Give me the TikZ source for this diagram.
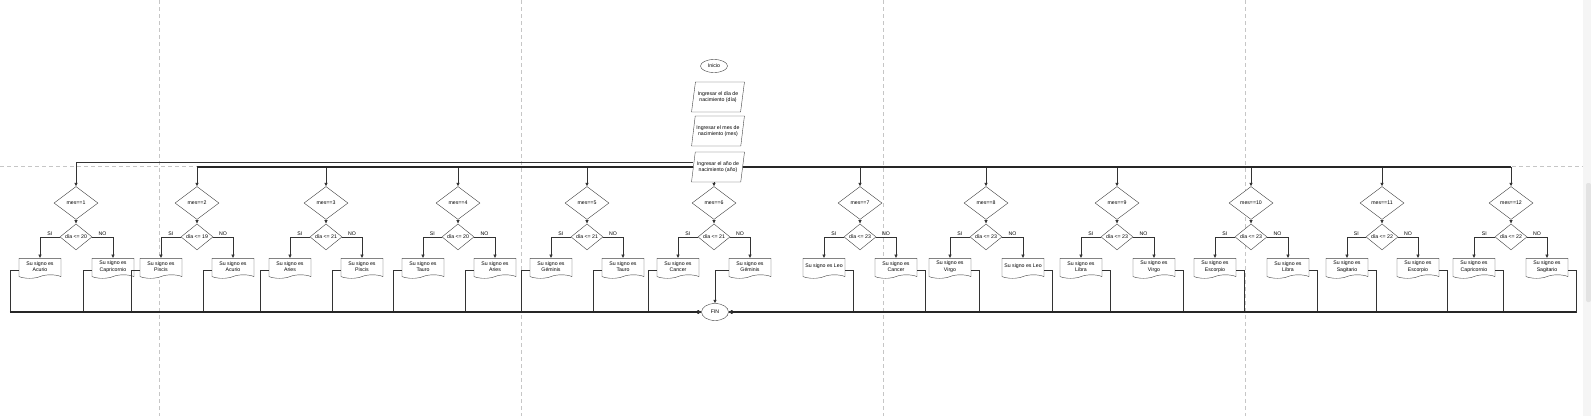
\documentclass[tikz,border=0pt]{standalone}
\usepackage{fontspec}
\setmainfont{Liberation Sans}
\usetikzlibrary{shapes.geometric, shapes.symbols, positioning, arrows.meta}
\tikzset{
  terminal/.style={ellipse, draw=black!75, fill=white, minimum width=27pt, minimum height=13pt, inner sep=0pt},
  io/.style={trapezium, trapezium left angle=75, trapezium right angle=105, trapezium stretches=true, minimum width=53pt, minimum height=30pt, inner xsep=-3pt, inner ysep=0pt, align=center, draw=black!75, fill=white},
  decision/.style={diamond, minimum width=44pt, minimum height=33pt, inner sep=0pt, draw=black!75, fill=white},
  condition/.style={diamond, minimum width=32pt, minimum height=26pt, inner sep=0pt, draw=black!75, fill=white},
  salida/.style={tape, tape bend top=none, tape bend height=3.5pt, minimum width=42pt, minimum height=20pt, inner sep=1pt, align=center, draw=black!75, fill=white},
  arrow/.style={line width=0.6pt, draw=black!80, ->, >={Latex[length=3.5pt,width=3.5pt]}},
  etiqueta/.style={above=1pt, inner sep=0pt},
  bus/.style={line width=1.4pt, draw=black!85},
  pagina/.style={gray!45, dash pattern=on 4pt off 3pt, line width=0.6pt}
}

\begin{document}
\begin{tikzpicture}[x=1pt, y=-1pt, every node/.style={font=\fontsize{5.2}{6.2}\selectfont}]
        \useasboundingbox (0,0) rectangle (1591,416);

        % Saltos de pagina y barra lateral
        \draw [pagina] (159,0) -- (159,416);
        \draw [pagina] (521,0) -- (521,416);
        \draw [pagina] (883,0) -- (883,416);
        \draw [pagina] (1245,0) -- (1245,416);
        \draw [pagina] (0,166) -- (1583,166);
        \fill [gray!8] (1583,0) rectangle (1591,416);
        \fill [gray!22, rounded corners=2pt] (1586,183) rectangle (1591,302);

        % Inicio y entradas
        \node (inicio) [terminal] at (714,66) {Inicio};
        \node (dia) [io] at (718,97) {Ingresar el día de\\nacimiento (día)};
        \node (mes) [io] at (718,131) {Ingresar el mes de\\nacimiento (mes)};
        \node (anio) [io] at (718,167) {Ingresar el año de\\nacimiento (año)};

        % Fin
        \node (fin) [terminal, minimum height=17pt] at (715,312) {FIN};

        % Mes 1
        \node (m1) [decision] at (76,203) {mes==1};
        \node (c1) [condition, below=4pt of m1] {día <= 20};
        \node (si1) [salida, below=8pt of c1, xshift=-36pt] {Su signo es\\Acurio};
        \node (no1) [salida, below=8pt of c1, xshift=37pt] {Su signo es\\Capricornio};

        % Mes 2
        \node (m2) [decision] at (197,203) {mes==2};
        \node (c2) [condition, below=4pt of m2] {día <= 19};
        \node (si2) [salida, below=8pt of c2, xshift=-36pt] {Su signo es\\Piscis};
        \node (no2) [salida, below=8pt of c2, xshift=36pt] {Su signo es\\Acurio};

        % Mes 3
        \node (m3) [decision] at (326,203) {mes==3};
        \node (c3) [condition, below=4pt of m3] {día <= 21};
        \node (si3) [salida, below=8pt of c3, xshift=-36pt] {Su signo es\\Aries};
        \node (no3) [salida, below=8pt of c3, xshift=36pt] {Su signo es\\Piscis};

        % Mes 4
        \node (m4) [decision] at (458,203) {mes==4};
        \node (c4) [condition, below=4pt of m4] {día <= 20};
        \node (si4) [salida, below=8pt of c4, xshift=-35pt] {Su signo es\\Tauro};
        \node (no4) [salida, below=8pt of c4, xshift=37pt] {Su signo es\\Aries};

        % Mes 5
        \node (m5) [decision] at (587,203) {mes==5};
        \node (c5) [condition, below=4pt of m5] {día <= 21};
        \node (si5) [salida, below=8pt of c5, xshift=-36pt] {Su signo es\\Géminis};
        \node (no5) [salida, below=8pt of c5, xshift=36pt] {Su signo es\\Tauro};

        % Mes 6
        \node (m6) [decision] at (714,203) {mes==6};
        \node (c6) [condition, below=4pt of m6] {día <= 21};
        \node (si6) [salida, below=8pt of c6, xshift=-36pt] {Su signo es\\Cancer};
        \node (no6) [salida, below=8pt of c6, xshift=36pt] {Su signo es\\Géminis};

        % Mes 7
        \node (m7) [decision] at (860,203) {mes==7};
        \node (c7) [condition, below=4pt of m7] {día <= 23};
        \node (si7) [salida, below=8pt of c7, xshift=-36pt] {Su signo es Leo};
        \node (no7) [salida, below=8pt of c7, xshift=36pt] {Su signo es\\Cancer};

        % Mes 8
        \node (m8) [decision] at (986,203) {mes==8};
        \node (c8) [condition, below=4pt of m8] {día <= 23};
        \node (si8) [salida, below=8pt of c8, xshift=-36pt] {Su signo es\\Virgo};
        \node (no8) [salida, below=8pt of c8, xshift=37pt] {Su signo es Leo};

        % Mes 9
        \node (m9) [decision] at (1117,203) {mes==9};
        \node (c9) [condition, below=4pt of m9] {día <= 23};
        \node (si9) [salida, below=8pt of c9, xshift=-36pt] {Su signo es\\Libra};
        \node (no9) [salida, below=8pt of c9, xshift=37pt] {Su signo es\\Virgo};

        % Mes 10
        \node (m10) [decision] at (1251,203) {mes==10};
        \node (c10) [condition, below=4pt of m10] {día <= 23};
        \node (si10) [salida, below=8pt of c10, xshift=-36pt] {Su signo es\\Escorpio};
        \node (no10) [salida, below=8pt of c10, xshift=37pt] {Su signo es\\Libra};

        % Mes 11
        \node (m11) [decision] at (1382,203) {mes==11};
        \node (c11) [condition, below=4pt of m11] {día <= 22};
        \node (si11) [salida, below=8pt of c11, xshift=-35pt] {Su signo es\\Sagitario};
        \node (no11) [salida, below=8pt of c11, xshift=36pt] {Su signo es\\Escorpio};

        % Mes 12
        \node (m12) [decision] at (1511,203) {mes==12};
        \node (c12) [condition, below=4pt of m12] {día <= 22};
        \node (si12) [salida, below=8pt of c12, xshift=-37pt] {Su signo es\\Capricornio};
        \node (no12) [salida, below=8pt of c12, xshift=36pt] {Su signo es\\Sagitario};

        % Del año a cada mes
        \draw [arrow] ([yshift=5pt]anio.west) -| (m1);
        \draw [arrow] (anio) -| (m2);
        \draw [arrow] (anio) -| (m3);
        \draw [arrow] (anio) -| (m4);
        \draw [arrow] (anio) -| (m5);
        \draw [arrow] (anio.south -| m6) -- (m6);
        \draw [arrow] (anio) -| (m7);
        \draw [arrow] (anio) -| (m8);
        \draw [arrow] (anio) -| (m9);
        \draw [arrow] (anio) -| (m10);
        \draw [arrow] (anio) -| (m11);
        \draw [arrow] (anio) -| (m12);
        \draw [bus] (m2 |- anio.west) -- (anio.west);
        \draw [bus] (anio.east) -- (m12 |- anio.east);

        % Decisiones
        \draw [arrow] (m1) -- (c1);
        \draw [arrow] (c1) -| node[etiqueta, pos=0.25] {SI} (si1);
        \draw [arrow] (c1) -| node[etiqueta, pos=0.25] {NO} (no1);
        \draw [arrow] (m2) -- (c2);
        \draw [arrow] (c2) -| node[etiqueta, pos=0.25] {SI} (si2);
        \draw [arrow] (c2) -| node[etiqueta, pos=0.25] {NO} (no2);
        \draw [arrow] (m3) -- (c3);
        \draw [arrow] (c3) -| node[etiqueta, pos=0.25] {SI} (si3);
        \draw [arrow] (c3) -| node[etiqueta, pos=0.25] {NO} (no3);
        \draw [arrow] (m4) -- (c4);
        \draw [arrow] (c4) -| node[etiqueta, pos=0.25] {SI} (si4);
        \draw [arrow] (c4) -| node[etiqueta, pos=0.25] {NO} (no4);
        \draw [arrow] (m5) -- (c5);
        \draw [arrow] (c5) -| node[etiqueta, pos=0.25] {SI} (si5);
        \draw [arrow] (c5) -| node[etiqueta, pos=0.25] {NO} (no5);
        \draw [arrow] (m6) -- (c6);
        \draw [arrow] (c6) -| node[etiqueta, pos=0.25] {SI} (si6);
        \draw [arrow] (c6) -| node[etiqueta, pos=0.25] {NO} (no6);
        \draw [arrow] (m7) -- (c7);
        \draw [arrow] (c7) -| node[etiqueta, pos=0.25] {SI} (si7);
        \draw [arrow] (c7) -| node[etiqueta, pos=0.25] {NO} (no7);
        \draw [arrow] (m8) -- (c8);
        \draw [arrow] (c8) -| node[etiqueta, pos=0.25] {SI} (si8);
        \draw [arrow] (c8) -| node[etiqueta, pos=0.25] {NO} (no8);
        \draw [arrow] (m9) -- (c9);
        \draw [arrow] (c9) -| node[etiqueta, pos=0.25] {SI} (si9);
        \draw [arrow] (c9) -| node[etiqueta, pos=0.25] {NO} (no9);
        \draw [arrow] (m10) -- (c10);
        \draw [arrow] (c10) -| node[etiqueta, pos=0.25] {SI} (si10);
        \draw [arrow] (c10) -| node[etiqueta, pos=0.25] {NO} (no10);
        \draw [arrow] (m11) -- (c11);
        \draw [arrow] (c11) -| node[etiqueta, pos=0.25] {SI} (si11);
        \draw [arrow] (c11) -| node[etiqueta, pos=0.25] {NO} (no11);
        \draw [arrow] (m12) -- (c12);
        \draw [arrow] (c12) -| node[etiqueta, pos=0.25] {SI} (si12);
        \draw [arrow] (c12) -| node[etiqueta, pos=0.25] {NO} (no12);

        % Signos hacia el fin (lado izquierdo)
        \draw [arrow] ([yshift=-4pt]si1.west) -- ++(-9,0) |- (fin.west);
        \draw [arrow] ([yshift=-4pt]no1.west) -- ++(-9,0) |- (fin.west);
        \draw [arrow] ([yshift=-4pt]si2.west) -- ++(-9,0) |- (fin.west);
        \draw [arrow] ([yshift=-4pt]no2.west) -- ++(-9,0) |- (fin.west);
        \draw [arrow] ([yshift=-4pt]si3.west) -- ++(-9,0) |- (fin.west);
        \draw [arrow] ([yshift=-4pt]no3.west) -- ++(-9,0) |- (fin.west);
        \draw [arrow] ([yshift=-4pt]si4.west) -- ++(-9,0) |- (fin.west);
        \draw [arrow] ([yshift=-4pt]no4.west) -- ++(-9,0) |- (fin.west);
        \draw [arrow] ([yshift=-4pt]si5.west) -- ++(-9,0) |- (fin.west);
        \draw [arrow] ([yshift=-4pt]no5.west) -- ++(-9,0) |- (fin.west);
        \draw [arrow] ([yshift=-4pt]si6.west) -- ++(-9,0) |- (fin.west);
        \draw [arrow] ([yshift=-4pt]no6.west) -| (fin.north);

        % Signos hacia el fin (lado derecho)
        \draw [arrow] ([yshift=-4pt]si7.east) -- ++(8,0) |- (fin.east);
        \draw [arrow] ([yshift=-4pt]no7.east) -- ++(8,0) |- (fin.east);
        \draw [arrow] ([yshift=-4pt]si8.east) -- ++(8,0) |- (fin.east);
        \draw [arrow] ([yshift=-4pt]no8.east) -- ++(8,0) |- (fin.east);
        \draw [arrow] ([yshift=-4pt]si9.east) -- ++(8,0) |- (fin.east);
        \draw [arrow] ([yshift=-4pt]no9.east) -- ++(8,0) |- (fin.east);
        \draw [arrow] ([yshift=-4pt]si10.east) -- ++(8,0) |- (fin.east);
        \draw [arrow] ([yshift=-4pt]no10.east) -- ++(8,0) |- (fin.east);
        \draw [arrow] ([yshift=-4pt]si11.east) -- ++(8,0) |- (fin.east);
        \draw [arrow] ([yshift=-4pt]no11.east) -- ++(8,0) |- (fin.east);
        \draw [arrow] ([yshift=-4pt]si12.east) -- ++(8,0) |- (fin.east);
        \draw [arrow] ([yshift=-4pt]no12.east) -- ++(8,0) |- (fin.east);

        % Lineas comunes hacia el fin
        \path ([xshift=-9pt]si1.west) coordinate (izq) ([xshift=8pt]no12.east) coordinate (der);
        \draw [bus, shorten >=3pt] (izq |- fin.west) -- (fin.west);
        \draw [bus, shorten >=3pt] (der |- fin.east) -- (fin.east);

    \end{tikzpicture}
\end{document}
